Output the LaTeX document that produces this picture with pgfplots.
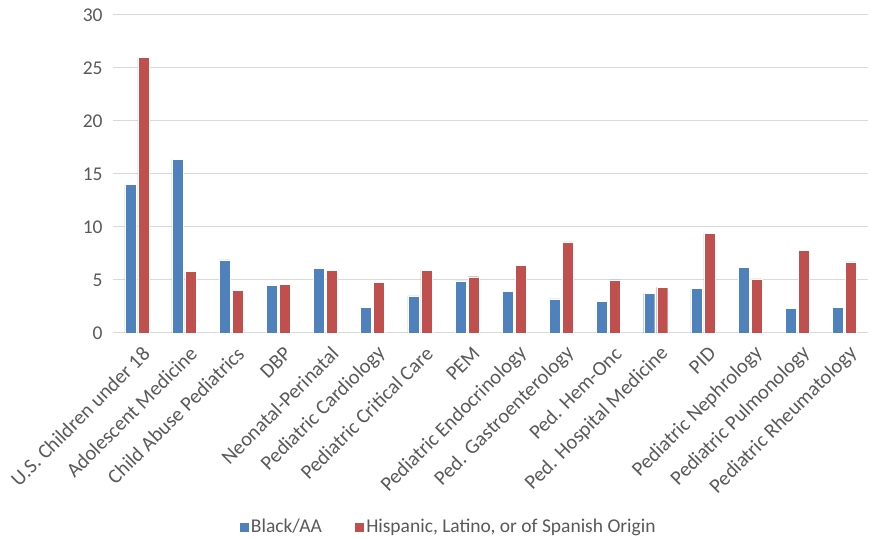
\documentclass[border=0pt]{standalone}
\usepackage{pgfplots}
\pgfplotsset{compat=1.18}
\usepackage{fontspec}
\setmainfont{Carlito}
\definecolor{cblue}{HTML}{4F81BD}
\definecolor{cred}{HTML}{C0504D}
\definecolor{cgrid}{HTML}{D9D9D9}
\definecolor{ctext}{HTML}{595959}
\begin{document}
\fontsize{19.5}{23}\selectfont
\begin{tikzpicture}
\path (-113pt,-207pt) rectangle (757pt,333pt);
\begin{axis}[
  at={(0,0)}, anchor=south west,
  scale only axis, width=755pt, height=318pt,
  ybar=2pt, bar width=11pt,
  xmin=-0.5, xmax=15.5, ymin=0, ymax=30,
  ytick={0,5,...,30},
  xtick={0,...,15},
  xticklabels={U.S. Children under 18, Adolescent Medicine, Child Abuse Pediatrics, DBP, Neonatal-Perinatal, Pediatric Cardiology, Pediatric Critical Care, PEM, Pediatric Endocrinology, Ped. Gastroenterology, Ped. Hem-Onc, Ped. Hospital Medicine, PID, Pediatric Nephrology, Pediatric Pulmonology, Pediatric Rheumatology},
  xticklabel style={rotate=45, anchor=east, font=\fontsize{20.5}{24}\selectfont, text=ctext, yshift=-19pt, xshift=1pt},
  yticklabel style={font=\fontsize{19.5}{23}\selectfont, text=ctext, xshift=-4pt},
  /pgf/number format/assume math mode=true,
  major tick length=0pt,
  ymajorgrids, grid style={cgrid, line width=1pt},
  axis x line*=bottom, axis y line*=left,
  x axis line style={cgrid, line width=1pt, -},
  y axis line style={draw=none},
  tick style={draw=none},
  legend style={draw=none, at={(0.4437,-0.61)}, anchor=center, legend columns=2,
    font=\fontsize{19.5}{23}\selectfont, text=ctext,
    /tikz/every even column/.append style={column sep=30pt}},
  legend image code/.code={\fill[#1] (0pt,-5pt) rectangle (10pt,5pt);},
]
\addplot[fill=cblue, draw=white, line width=0.4pt] coordinates {
(0,14.0) (1,16.4) (2,6.9) (3,4.5) (4,6.1) (5,2.4) (6,3.5) (7,4.9)
(8,3.9) (9,3.2) (10,3.0) (11,3.7) (12,4.2) (13,6.2) (14,2.3) (15,2.4)};
\addplot[fill=cred, draw=white, line width=0.4pt] coordinates {
(0,26.0) (1,5.8) (2,4.0) (3,4.6) (4,5.9) (5,4.8) (6,5.9) (7,5.3)
(8,6.4) (9,8.6) (10,5.0) (11,4.3) (12,9.4) (13,5.1) (14,7.8) (15,6.7)};
\legend{Black/AA, {Hispanic, Latino, or of Spanish Origin}}
\end{axis}
\end{tikzpicture}
\end{document}
